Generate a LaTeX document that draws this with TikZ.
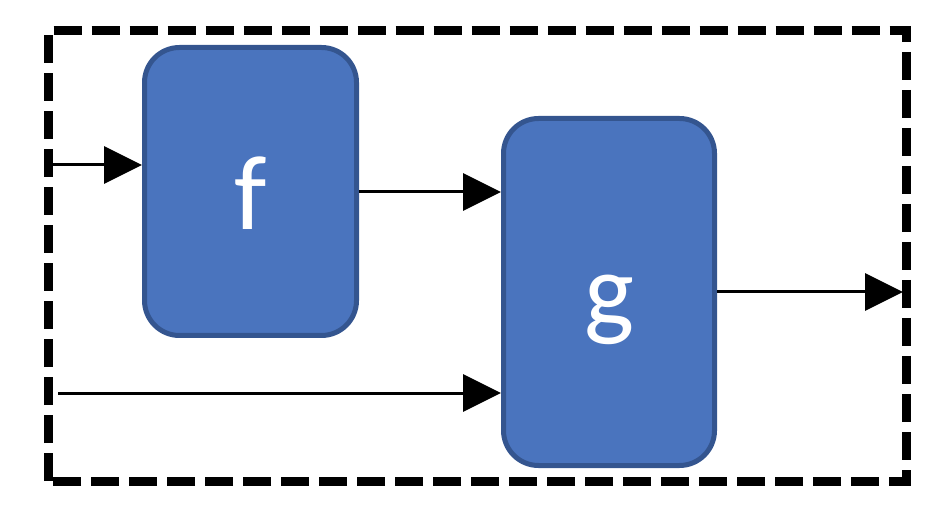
\documentclass[tikz,border=0pt]{standalone}
\usepackage{fontspec}
\setmainfont{Carlito}
\usetikzlibrary{arrows.meta}
\definecolor{boxfill}{HTML}{4A74BE}
\definecolor{boxline}{HTML}{34558F}
\tikzset{
  fbox/.style={draw=boxline, fill=boxfill, line width=5pt, rounded corners=35pt,
    inner sep=0pt},
  boxtext/.style={anchor=base, text=white, font=\fontsize{106}{106}\selectfont, inner sep=0pt},
  conn/.style={line width=3pt, -{Triangle[length=38pt,width=37pt]}},
  frame/.style={line width=9pt, dash pattern=on 28pt off 10pt}
}
\begin{document}
\begin{tikzpicture}[x=1pt,y=-1pt]
\useasboundingbox (0,0) rectangle (950,510);
\draw[frame] (48,481) rectangle (906,30.5);
\node[fbox, minimum width=212pt, minimum height=288pt] (f) at (250.5,191.5) {};
\node[fbox, minimum width=211pt, minimum height=347pt] (g) at (609,292) {};
\node[boxtext] (ftext) at (250.5,230) {f};
\node[boxtext] (gtext) at (609,327) {g};
\coordinate (in1) at (48,165);
\coordinate (in2) at (58,393);
\coordinate (out) at (903,292);
\coordinate (fg) at (359,192);
\draw[conn] (in1) -- (in1 -| f.west);
\draw[conn] (fg) -- (fg -| g.west);
\draw[conn] (in2) -- (in2 -| g.west);
\draw[conn] (out -| g.east) -- (out);
\end{tikzpicture}
\end{document}
